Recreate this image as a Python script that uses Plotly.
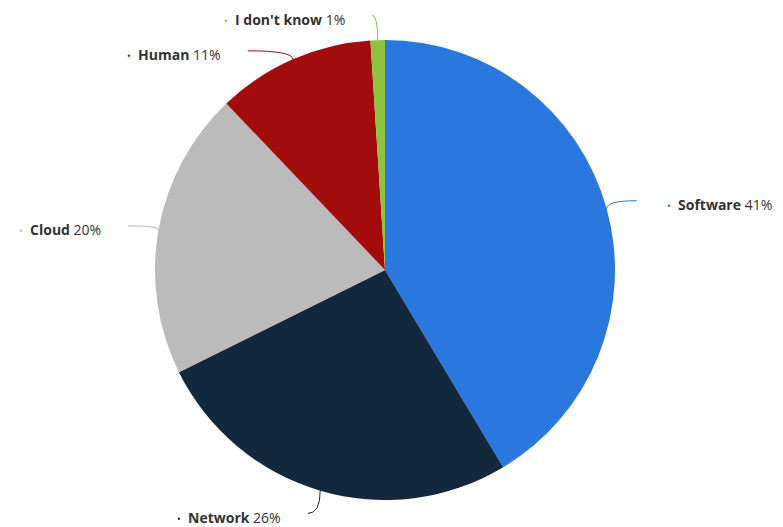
import math
import plotly.graph_objects as go

# ---- data ----
categories = ["Software", "Network", "Cloud", "Human", "I don't know"]
values = [41, 26, 20, 11, 1]
colors = ["#2a78dd", "#13283d", "#bbbbbb", "#a30c0c", "#8cc43f"]

# ---- label styling (offsets of connector end from natural position, px) ----
label_offsets = [(1, 0), (-4, -6), (-1, 1), (-33, 19), (-5, 5)]

PAGE_MARGIN = 8  # browser body margin
W, H = 783 - PAGE_MARGIN, 527 - PAGE_MARGIN
cx, cy, r = 385 - PAGE_MARGIN, 270 - PAGE_MARGIN, 230
dist = 30

def px(x):
    return x / W

def py(y):
    return 1 - y / H

fig = go.Figure(go.Pie(
    labels=categories, values=values, sort=False, direction="clockwise", rotation=0,
    marker=dict(colors=colors, line=dict(width=0)), textinfo="none", hoverinfo="label+percent",
    domain=dict(x=[px(cx - r), px(cx + r)], y=[py(cy + r), py(cy - r)]),
    showlegend=False,
))

total = sum(values)
cum = 0
shapes, annotations = [], []
for cat, v, col, (odx, ody) in zip(categories, values, colors, label_offsets):
    mid = (cum + v / 2) / total * 2 * math.pi
    cum += v
    s, c = math.sin(mid), math.cos(mid)
    ex, ey = cx + r * s, cy - r * c
    lx, ly = cx + (r + dist) * s + odx, cy - (r + dist) * c + ody
    path = f"M {px(lx)},{py(ly)} Q {px(ex)},{py(ly)} {px(ex)},{py(ey)}"
    shapes.append(dict(type="path", path=path, xref="paper", yref="paper",
                       line=dict(color=col, width=1)))
    pct = round(v)
    bullet = f"<span style='color:{col};font-size:10px'>•</span>"
    txt = f"<b>{cat}</b> {pct}%"
    right = s > 0
    annotations.append(dict(
        x=px(lx + 28) if right else px(lx - 25), y=py(ly + 4), xref="paper", yref="paper",
        xanchor="left" if right else "right", yanchor="middle", showarrow=False,
        text=f"{bullet}  {txt}", font=dict(family="Open Sans", size=14, color="#333333"),
    ))

fig.update_layout(
    width=W, height=H, margin=dict(l=0, r=0, t=0, b=0),
    paper_bgcolor="white", plot_bgcolor="white",
    shapes=shapes, annotations=annotations,
)
fig.write_html("out.html")
